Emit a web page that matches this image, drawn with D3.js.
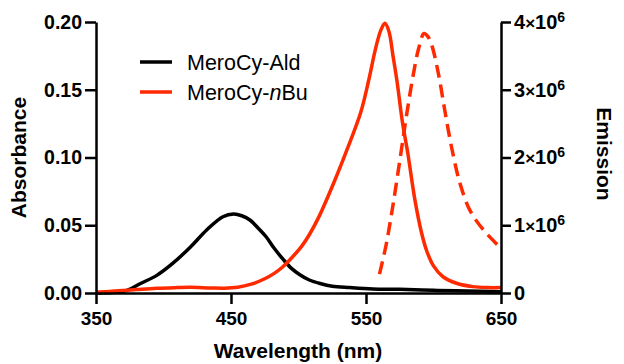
<!DOCTYPE html>
<html>
<head>
<meta charset="utf-8">
<script src="https://cdn.jsdelivr.net/npm/d3@7"></script>
<style>
  body { margin: 0; background: #fff; }
  svg { font-family: "Liberation Sans", Arial, Helvetica, sans-serif; }
</style>
</head>
<body>
<svg id="chart" width="624" height="364"></svg>
<script>
// absorbance, MeroCy-Ald (black)
const aldWl  = [350, 365, 373, 383, 395, 407, 420, 432, 444, 452, 458, 464, 470, 476, 482, 489, 495, 501, 508, 516, 525, 538, 555, 575, 600, 625, 650];
const aldAbs = [0.000, 0.0005, 0.002, 0.007, 0.013, 0.022, 0.034, 0.0465, 0.0563, 0.0583, 0.057, 0.0539, 0.048, 0.0415, 0.033, 0.0244, 0.018, 0.0135, 0.0096, 0.007, 0.005, 0.004, 0.003, 0.0027, 0.002, 0.0015, 0.001];

// absorbance, MeroCy-nBu (red solid)
const nbuWl  = [350, 360, 370, 380, 395, 410, 420, 435, 445, 455, 465, 475, 482, 488, 495, 502, 508, 515, 526, 536, 546, 552, 557, 561, 564, 567, 570, 573, 577, 581, 586, 591, 595, 600, 607, 617, 629, 640, 650];
const nbuAbs = [0.0008, 0.0012, 0.0018, 0.0025, 0.0035, 0.004, 0.0042, 0.0037, 0.0035, 0.0042, 0.0065, 0.0105, 0.0145, 0.019, 0.026, 0.034, 0.043, 0.056, 0.081, 0.106, 0.133, 0.157, 0.180, 0.194, 0.199, 0.193, 0.175, 0.156, 0.126, 0.103, 0.070, 0.045, 0.031, 0.020, 0.012, 0.0072, 0.0047, 0.004, 0.004];

// emission, MeroCy-nBu (red dashed, right axis)
const emWl = [560, 565, 570, 575, 580, 585, 589, 593, 596, 599, 604, 608.5, 613.5, 619.6, 627, 637, 650];
const emVal = [0.28e6, 0.72e6, 1.30e6, 1.95e6, 2.62e6, 3.22e6, 3.61e6, 3.83e6, 3.78e6, 3.64e6, 3.20e6, 2.68e6, 2.14e6, 1.62e6, 1.22e6, 0.93e6, 0.66e6];

const xTicks = [350, 450, 550, 650];
const yTicks = [0, 0.05, 0.10, 0.15, 0.20];
const y2Ticks = [0, 1e6, 2e6, 3e6, 4e6];
const legendNames = ["MeroCy-Ald", "MeroCy-nBu"];

const red = "#ff2a00";
const plotL = 96, plotR = 501, plotT = 22, plotB = 293;

const svg = d3.select("#chart");

const x = d3.scaleLinear().domain([350, 650]).range([plotL, plotR]);
const y = d3.scaleLinear().domain([0, 0.2]).range([plotB, plotT]);
const y2 = d3.scaleLinear().domain([0, 4e6]).range([plotB, plotT]);

const line = d3.line().curve(d3.curveCatmullRom);

// curves
svg.append("path")
  .attr("d", line(aldWl.map((w, i) => [x(w), y(aldAbs[i])])))
  .attr("fill", "none").attr("stroke", "#000").attr("stroke-width", 3.5);

svg.append("path")
  .attr("d", line(nbuWl.map((w, i) => [x(w), y(nbuAbs[i])])))
  .attr("fill", "none").attr("stroke", red).attr("stroke-width", 3.5);

svg.append("path")
  .attr("d", line(emWl.map((w, i) => [x(w), y2(emVal[i])])))
  .attr("fill", "none").attr("stroke", red).attr("stroke-width", 3.5)
  .attr("stroke-dasharray", "13,7");

// axes
function styleAxis(g, size) {
  g.select(".domain").attr("stroke-width", 2.5);
  g.selectAll(".tick line").attr("stroke-width", 2.5);
  g.selectAll("text").attr("font-size", size).attr("font-weight", "bold")
    .attr("font-family", "Liberation Sans, Arial, sans-serif");
}

svg.append("g")
  .attr("transform", "translate(0," + plotB + ")")
  .call(d3.axisBottom(x).tickValues(xTicks).tickSize(11).tickSizeOuter(0).tickPadding(8))
  .call(styleAxis, 19);

svg.append("g")
  .attr("transform", "translate(" + plotL + ",0)")
  .call(d3.axisLeft(y).tickValues(yTicks).tickFormat(d3.format(".2f")).tickSize(11).tickSizeOuter(0).tickPadding(3))
  .call(styleAxis, 19.5);

const rAxis = svg.append("g")
  .attr("transform", "translate(" + plotR + ",0)")
  .call(d3.axisRight(y2).tickValues(y2Ticks).tickSize(10).tickSizeOuter(0).tickPadding(3))
  .call(styleAxis, 20);

rAxis.selectAll(".tick text").each(function(d) {
  const t = d3.select(this).text("");
  if (d === 0) { t.text("0"); return; }
  t.append("tspan").text(d / 1e6);
  t.append("tspan").text("×").attr("font-size", 17);
  t.append("tspan").text("10");
  t.append("tspan").text("6").attr("font-size", 14).attr("dy", "-0.5em");
});

// axis titles
svg.append("text")
  .attr("transform", "translate(26," + (plotT + plotB) / 2 + ") rotate(-90)")
  .attr("text-anchor", "middle").attr("font-size", 21).attr("font-weight", "bold")
  .text("Absorbance");

svg.append("text")
  .attr("transform", "translate(597,154) rotate(90)")
  .attr("text-anchor", "middle").attr("font-size", 21).attr("font-weight", "bold")
  .text("Emission");

svg.append("text")
  .attr("x", 298).attr("y", 358)
  .attr("text-anchor", "middle").attr("font-size", 21).attr("font-weight", "bold")
  .text("Wavelength (nm)");

// legend
const legend = svg.append("g");
[["#000", 62], [red, 92]].forEach(([c, ly], i) => {
  legend.append("line")
    .attr("x1", 140).attr("x2", 172).attr("y1", ly).attr("y2", ly)
    .attr("stroke", c).attr("stroke-width", 3.5);
  const t = legend.append("text")
    .attr("x", 187).attr("y", ly).attr("dy", "0.36em").attr("font-size", 21.5);
  if (i === 0) {
    t.text(legendNames[0]);
  } else {
    t.append("tspan").text("MeroCy-");
    t.append("tspan").attr("font-style", "italic").text("n");
    t.append("tspan").text("Bu");
  }
});
</script>
</body>
</html>
